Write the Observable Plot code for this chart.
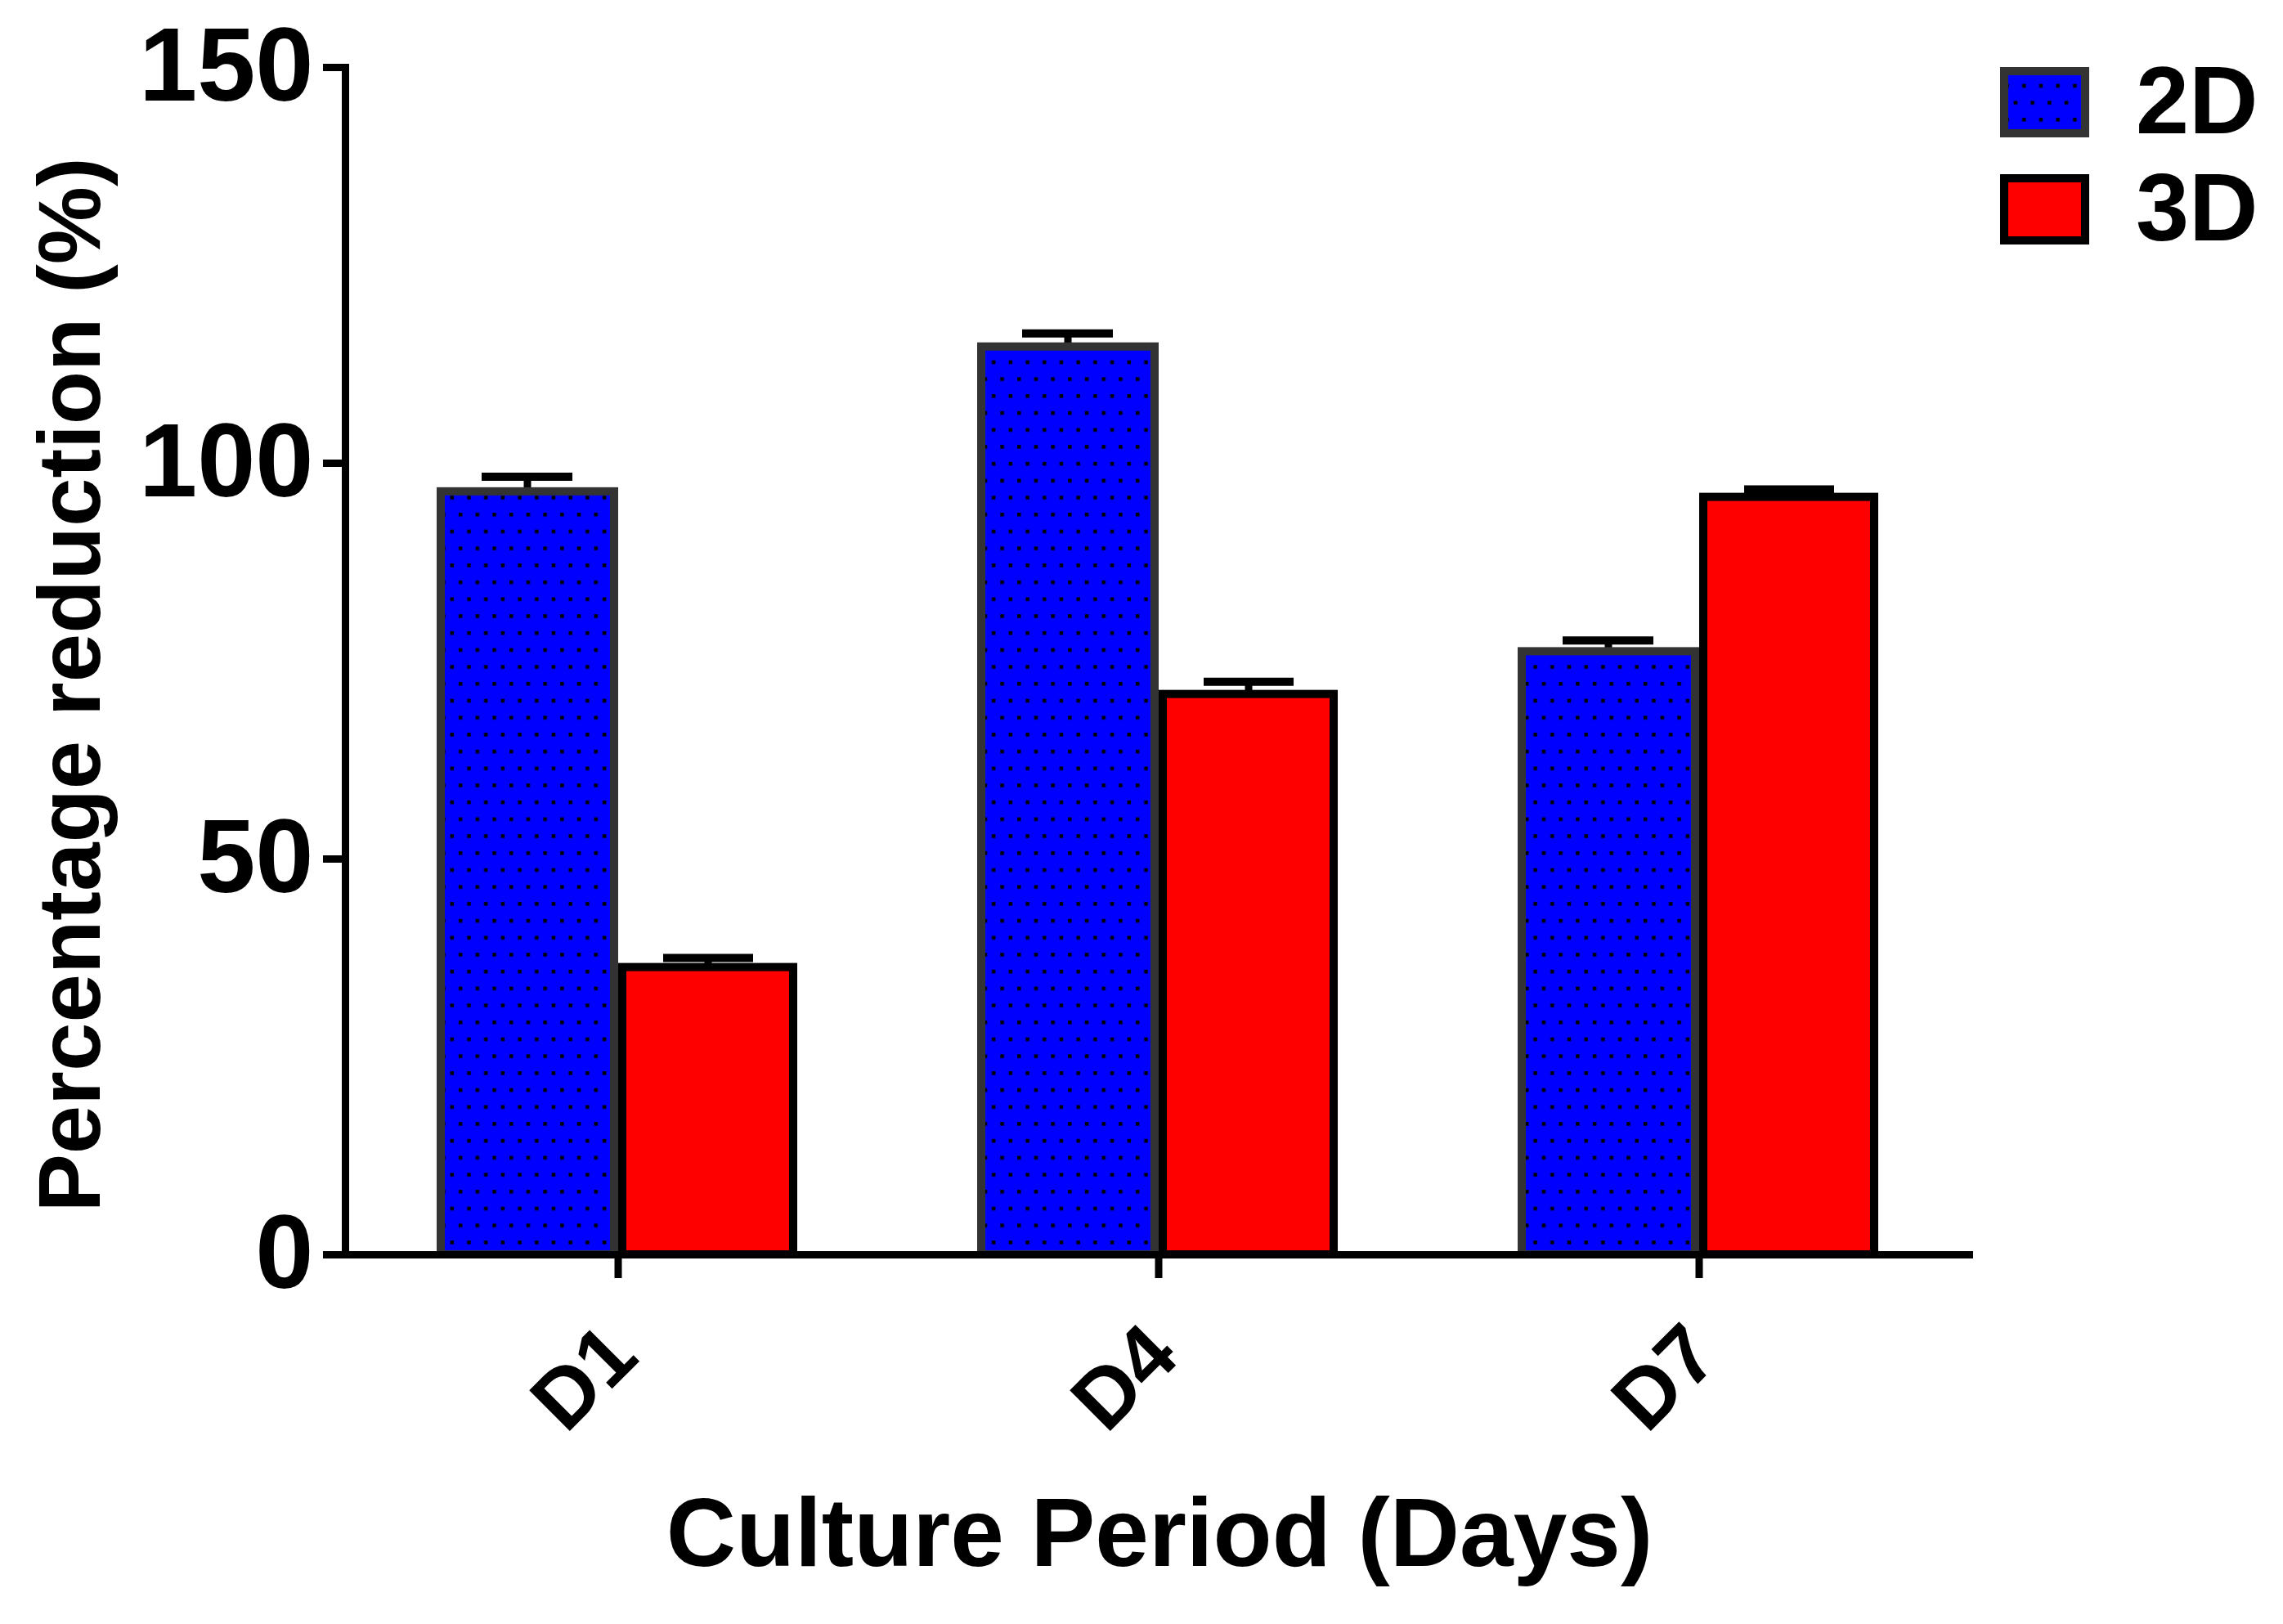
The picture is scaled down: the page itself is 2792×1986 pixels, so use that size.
<!DOCTYPE html>
<html><head><meta charset="utf-8">
<script src="https://cdn.jsdelivr.net/npm/d3@7"></script>
<script src="https://cdn.jsdelivr.net/npm/@observablehq/plot@0.6"></script>
<style>
html,body{margin:0;padding:0;background:#fff;overflow:hidden;}
#wrap{position:relative;width:2792px;height:1986px;}
#legend{position:absolute;left:2440px;top:76px;overflow:visible;}
</style></head><body><div id="wrap"></div>
<script>
const days = ["D1", "D4", "D7"];
const groups = ["2D", "3D"];
const mean2D = [96.4, 114.7, 76.2];
const err2D = [1.9, 1.7, 1.4];
const mean3D = [36.3, 70.8, 95.7];
const err3D = [1.2, 1.6, 1.0];
const yTicks = [0, 50, 100, 150];
const xTitle = "Culture Period (Days)";
const yTitle = "Percentage reduction (%)";

const rows2D = days.map((d, i) => ({day: d, group: groups[0], value: mean2D[i], hi: mean2D[i] + err2D[i]}));
const rows3D = days.map((d, i) => ({day: d, group: groups[1], value: mean3D[i], hi: mean3D[i] + err3D[i]}));

const FONT = "'Liberation Sans', Arial, Helvetica, sans-serif";

const chart = Plot.plot({
  width: 2792,
  height: 1986,
  marginTop: 82,
  marginBottom: 452,
  marginLeft: 422,
  marginRight: 379,
  style: `font-family: ${FONT}; font-weight: bold; background: white; color: black; overflow: visible;`,
  x: {domain: days, range: [424.5, 2407.5], padding: 0},
  y: {domain: [0, 150]},
  marks: [
    Plot.ruleX(rows2D, {x: "day", y1: "value", y2: "hi", dx: -111, stroke: "black", strokeWidth: 9}),
    Plot.tickY(rows2D, {x: "day", y: "hi", insetLeft: 164, insetRight: 386, stroke: "black", strokeWidth: 10}),
    Plot.ruleX(rows3D, {x: "day", y1: "value", y2: "hi", dx: 110, stroke: "black", strokeWidth: 9}),
    Plot.tickY(rows3D, {x: "day", y: "hi", insetLeft: 386, insetRight: 165, stroke: "black", strokeWidth: 10}),
    Plot.barY(rows2D, {x: "day", y: "value", insetLeft: 114, insetRight: 335, fill: "url(#dots2d)", stroke: "#333333", strokeWidth: 10}),
    Plot.barY(rows3D, {x: "day", y: "value", insetLeft: 336, insetRight: 116, fill: "#ff0000", stroke: "#000000", strokeWidth: 10}),
    Plot.ruleY([0], {stroke: "black", strokeWidth: 9}),
    Plot.frame({anchor: "left", stroke: "black", strokeWidth: 9}),
    Plot.axisY({ticks: yTicks, tickSize: 27, tickPadding: 12, fontSize: 128, fontWeight: "bold", strokeWidth: 9, label: null, tickFormat: d => String(d)}),
    Plot.axisX({tickSize: 29, strokeWidth: 9, tickFormat: () => "", label: null}),
    Plot.axisX({tickSize: 0, tickPadding: 105, tickRotate: -45, dx: 5, fontSize: 102, fontWeight: "bold", label: null}),
    Plot.text([xTitle], {frameAnchor: "bottom", dy: 380, lineAnchor: "bottom", fontSize: 118, fontWeight: "bold"}),
    Plot.text([yTitle], {frameAnchor: "left", textAnchor: "middle", rotate: -90, dx: -301, dy: 29, lineAnchor: "bottom", fontSize: 107, fontWeight: "bold"})
  ]
});

function addDots(svgSel, id) {
  let defs = svgSel.select("defs");
  if (defs.empty()) defs = svgSel.insert("defs", ":first-child");
  const w = 20.7, h = 41.4, s = 4.5;
  const pat = defs.append("pattern").attr("id", id).attr("patternUnits", "userSpaceOnUse")
    .attr("width", w).attr("height", h);
  pat.append("rect").attr("width", w).attr("height", h).attr("fill", "#0000ff");
  pat.append("rect").attr("x", 2).attr("y", 6).attr("width", s).attr("height", s).attr("fill", "#000");
  pat.append("rect").attr("x", 2 + w / 2).attr("y", 6 + h / 2).attr("width", s).attr("height", s).attr("fill", "#000");
}
addDots(d3.select(chart), "dots2d");

const wrap = document.getElementById("wrap");
wrap.appendChild(chart);

// legend (outside the Plot SVG, positioned beside the plot)
const legendStyles = [
  {fill: "url(#dots2dL)", stroke: "#333333"},
  {fill: "#ff0000", stroke: "#000000"}
];
const leg = d3.create("svg").attr("id", "legend").attr("width", 340).attr("height", 236)
  .style("font-family", FONT).style("font-weight", "bold");
addDots(leg, "dots2dL");
groups.forEach((g, i) => {
  const gy = i * 131;
  leg.append("rect").attr("x", 11).attr("y", 11 + gy).attr("width", 99).attr("height", 76)
    .attr("fill", legendStyles[i].fill).attr("stroke", legendStyles[i].stroke).attr("stroke-width", 10);
  leg.append("text").attr("x", 172).attr("y", 87 + gy).attr("font-size", 117).attr("fill", "black").text(g);
});
wrap.appendChild(leg.node());
</script></body></html>
